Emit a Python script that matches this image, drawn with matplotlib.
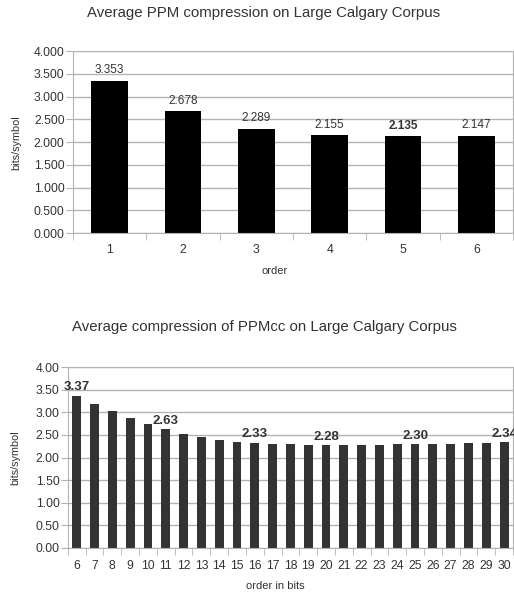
import numpy as np
import matplotlib.pyplot as plt
from matplotlib.ticker import FixedLocator, FormatStrFormatter

plt.rcParams['font.family'] = ['Liberation Sans', 'DejaVu Sans']

# top chart: PPM by order
ppm_orders = ['1', '2', '3', '4', '5', '6']
ppm_bits = [3.353, 2.678, 2.289, 2.155, 2.135, 2.147]
ppm_bold = [False, False, False, False, True, False]

# bottom chart: PPMcc by order in bits
cc_orders = [str(i) for i in range(6, 31)]
cc_bits = [3.37, 3.18, 3.03, 2.88, 2.74, 2.63, 2.52, 2.46, 2.39, 2.35,
           2.33, 2.31, 2.29, 2.28, 2.28, 2.28, 2.28, 2.28, 2.30, 2.30,
           2.30, 2.30, 2.32, 2.33, 2.34]
cc_labelled = ['6', '11', '16', '20', '25', '30']

grid_c = '#b3b3b3'
txt_c = '#333333'


def style_axes(ax, n, fmt):
    ax.set_xlim(-0.5, n - 0.5)
    ax.set_ylim(0, 4)
    ax.set_yticks(np.arange(0, 4.01, 0.5))
    ax.yaxis.set_major_formatter(FormatStrFormatter(fmt))
    ax.yaxis.grid(True, color=grid_c, linewidth=1)
    ax.set_axisbelow(True)
    for s in ax.spines.values():
        s.set_color(grid_c)
    ax.xaxis.set_minor_locator(FixedLocator(np.arange(-0.5, n, 1)))
    ax.tick_params(axis='x', which='major', length=0, pad=8, labelsize=8.8, labelcolor=txt_c)
    ax.tick_params(axis='x', which='minor', length=5, color=grid_c, direction='out')
    ax.tick_params(axis='y', length=5, color=grid_c, labelsize=8.8, labelcolor=txt_c, pad=1)


fig = plt.figure(figsize=(5.14, 5.95), dpi=100)

ax1 = fig.add_axes([0.142, 0.608, 0.856, 0.306])
x1 = np.arange(len(ppm_orders))
ax1.bar(x1, ppm_bits, width=0.5, color='black')
ax1.set_xticks(x1)
ax1.set_xticklabels(ppm_orders)
style_axes(ax1, len(ppm_orders), '%.3f')
for xi, v, b in zip(x1, ppm_bits, ppm_bold):
    ax1.text(xi, v + 0.1, '%.3f' % v, ha='center', va='bottom', fontsize=8.5,
             color=txt_c, fontweight='bold' if b else 'normal')
fig.text(0.512, 0.978, 'Average PPM compression on Large Calgary Corpus',
         ha='center', va='center', fontsize=10.8, color=txt_c)
fig.text(0.031, 0.761, 'bits/symbol', rotation=90, ha='center', va='center',
         fontsize=7.8, color=txt_c)
fig.text(0.535, 0.545, 'order', ha='center', va='center', fontsize=8, color=txt_c)

ax2 = fig.add_axes([0.132, 0.079, 0.866, 0.304])
x2 = np.arange(len(cc_orders))
ax2.bar(x2, cc_bits, width=0.5, color='#333333')
ax2.set_xticks(x2)
ax2.set_xticklabels(cc_orders)
style_axes(ax2, len(cc_orders), '%.2f')
ax2.tick_params(axis='x', which='major', pad=9)
for xi, o, v in zip(x2, cc_orders, cc_bits):
    if o in cc_labelled:
        ax2.text(xi, v + 0.05, '%.2f' % v, ha='center', va='bottom',
                 fontsize=9.5, fontweight='bold', color=txt_c, clip_on=False)
fig.text(0.514, 0.450, 'Average compression of PPMcc on Large Calgary Corpus',
         ha='center', va='center', fontsize=10.8, color=txt_c)
fig.text(0.029, 0.231, 'bits/symbol', rotation=90, ha='center', va='center',
         fontsize=7.8, color=txt_c)
fig.text(0.535, 0.015, 'order in bits', ha='center', va='center', fontsize=8, color=txt_c)

fig.savefig('out.png', dpi=100)
